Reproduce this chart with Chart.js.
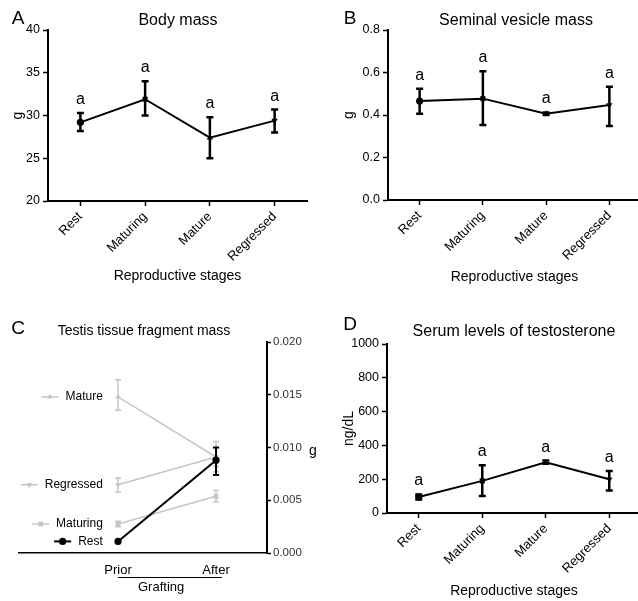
<!DOCTYPE html>
<html>
<head>
<meta charset="utf-8">
<script src="https://cdn.jsdelivr.net/npm/chart.js@4.4.1/dist/chart.umd.min.js"></script>
<style>
  body { margin: 0; width: 638px; height: 601px; overflow: hidden; background: #fff; position: relative;
         font-family: Arial, "Liberation Sans", sans-serif; }
  .panel { position: absolute; }
  .lbl { position: absolute; transform: translate(-50%, -50%); white-space: nowrap; line-height: 1; color: #000; }
</style>
</head>
<body>
<div class="panel" style="left:0;top:0"><canvas id="chartA" width="320" height="300"></canvas></div>
<div class="panel" style="left:318px;top:0"><canvas id="chartB" width="330" height="300"></canvas></div>
<div class="panel" style="left:0;top:300px"><canvas id="chartC" width="320" height="301"></canvas></div>
<div class="panel" style="left:318px;top:300px"><canvas id="chartD" width="330" height="301"></canvas></div>

<div class="lbl" style="left:18px;top:17px;font-size:19px">A</div>
<div class="lbl" style="left:178px;top:20px;font-size:16px">Body mass</div>
<div class="lbl" style="left:350px;top:17px;font-size:19px">B</div>
<div class="lbl" style="left:516px;top:20px;font-size:16px">Seminal vesicle mass</div>
<div class="lbl" style="left:18px;top:327px;font-size:19px">C</div>
<div class="lbl" style="left:144px;top:330px;font-size:14px">Testis tissue fragment mass</div>
<div class="lbl" style="left:313px;top:450px;font-size:14px">g</div>
<div class="lbl" style="left:350px;top:323px;font-size:19px">D</div>
<div class="lbl" style="left:514px;top:331px;font-size:16px">Serum levels of testosterone</div>

<script>
const FONT = 'Arial, "Liberation Sans", sans-serif';
Chart.defaults.font.family = FONT;
Chart.defaults.color = '#000';
Chart.defaults.animation = false;

// data
const stages = ['Rest', 'Maturing', 'Mature', 'Regressed'];
const stageMarkers = ['circle', 'rect', 'triangle', 'triangle'];
const stageRotation = [0, 0, 0, 180];
const stageLetters = ['a', 'a', 'a', 'a'];

const bodyMass = [29.2, 31.9, 27.4, 29.4];
const bodyMassLow = [28.2, 30.0, 25.0, 28.0];
const bodyMassHigh = [30.3, 34.0, 29.8, 30.7];

const svMass = [0.466, 0.477, 0.406, 0.447];
const svMassLow = [0.406, 0.353, 0.400, 0.348];
const svMassHigh = [0.524, 0.606, 0.412, 0.533];

const testo = [95, 190, 300, 200];
const testoLow = [80, 101, 292, 133];
const testoHigh = [110, 283, 310, 248];

const grafting = ['Prior', 'After'];
const fragRest = [0.0011, 0.0088];
const fragRestLow = [0.0011, 0.0074];
const fragRestHigh = [0.0011, 0.0100];
const fragMaturing = [0.00275, 0.00537];
const fragMaturingLow = [0.0025, 0.00483];
const fragMaturingHigh = [0.0030, 0.00593];
const fragRegressed = [0.00647, 0.0091];
const fragRegressedLow = [0.00578, 0.0082];
const fragRegressedHigh = [0.0071, 0.0100];
const fragMature = [0.0148, 0.0091];
const fragMatureLow = [0.01352, 0.0077];
const fragMatureHigh = [0.01643, 0.01058];

const GREY = '#c6c6c6';

// vertical error bars with caps, drawn per dataset
const errorBars = {
  id: 'errorBars',
  afterDatasetDraw(chart, args) {
    const ds = chart.data.datasets[args.index];
    if (!ds.errLow) return;
    const y = chart.scales.y;
    const ctx = chart.ctx;
    const cap = ds.capHalf || 3.5;
    ctx.save();
    ctx.strokeStyle = ds.borderColor;
    ctx.lineWidth = ds.errWidth || 2.5;
    args.meta.data.forEach((pt, i) => {
      const top = y.getPixelForValue(ds.errHigh[i]);
      const bot = y.getPixelForValue(ds.errLow[i]);
      if (bot - top < 1) return;
      ctx.beginPath();
      ctx.moveTo(pt.x, top); ctx.lineTo(pt.x, bot);
      ctx.moveTo(pt.x - cap, top); ctx.lineTo(pt.x + cap, top);
      ctx.moveTo(pt.x - cap, bot); ctx.lineTo(pt.x + cap, bot);
      ctx.stroke();
    });
    ctx.restore();
  }
};

// the little "a" letters over each group
const sigLetters = {
  id: 'sigLetters',
  afterDatasetsDraw(chart, args, opts) {
    if (!opts.letters) return;
    const ds = chart.data.datasets[0];
    const meta = chart.getDatasetMeta(0);
    const ctx = chart.ctx;
    ctx.save();
    ctx.font = '16px ' + FONT;
    ctx.fillStyle = '#000';
    ctx.textAlign = 'center';
    ctx.textBaseline = 'alphabetic';
    meta.data.forEach((pt, i) => {
      const top = chart.scales.y.getPixelForValue(ds.errHigh[i]);
      ctx.fillText(opts.letters[i], pt.x, top - 9);
    });
    ctx.restore();
  }
};

// labels next to the "Prior" points in panel C
const sideLabels = {
  id: 'sideLabels',
  afterDatasetsDraw(chart) {
    const ctx = chart.ctx;
    const xr = chart.scales.x.getPixelForValue(-0.155);
    ctx.save();
    ctx.font = '12px ' + FONT;
    ctx.textAlign = 'right';
    ctx.textBaseline = 'middle';
    chart.data.datasets.forEach((ds) => {
      const y = chart.scales.y.getPixelForValue(ds.data[0].y);
      ctx.fillStyle = '#000';
      ctx.fillText(ds.label, xr, y);
      const w = ctx.measureText(ds.label).width;
      const x1 = xr - w - 7, x0 = x1 - 17;
      ctx.strokeStyle = ds.borderColor;
      ctx.fillStyle = ds.pointBackgroundColor;
      ctx.lineWidth = ds.borderWidth;
      ctx.beginPath(); ctx.moveTo(x0, y); ctx.lineTo(x1, y); ctx.stroke();
      Chart.helpers.drawPoint(ctx, {
        pointStyle: ds.pointStyle, rotation: ds.pointRotation || 0,
        radius: ds.pointRadius, borderWidth: 0
      }, (x0 + x1) / 2, y);
    });
    ctx.restore();
  }
};

// "Prior  After" underline + Grafting
const graftAxis = {
  id: 'graftAxis',
  afterDraw(chart) {
    const ctx = chart.ctx;
    const x = chart.scales.x;
    const x0 = x.getPixelForValue(0), x1 = x.getPixelForValue(1) + 6;
    ctx.save();
    ctx.strokeStyle = '#000';
    ctx.lineWidth = 1;
    ctx.beginPath(); ctx.moveTo(x0, 277.5); ctx.lineTo(x1, 277.5); ctx.stroke();
    ctx.font = '13px ' + FONT;
    ctx.fillStyle = '#000';
    ctx.textAlign = 'center';
    ctx.textBaseline = 'middle';
    ctx.fillText('Grafting', x.getPixelForValue(0.44), 287);
    ctx.restore();
  }
};

function stagePanel(id, o) {
  return new Chart(document.getElementById(id), {
    type: 'line',
    data: {
      labels: stages,
      datasets: [{
        data: o.values, errLow: o.low, errHigh: o.high,
        borderColor: '#000', borderWidth: 2,
        pointStyle: stageMarkers, pointRotation: stageRotation,
        pointRadius: 3.6, pointBorderWidth: 0,
        pointBackgroundColor: '#000', pointBorderColor: '#000'
      }]
    },
    options: {
      responsive: false,
      devicePixelRatio: 1,
      layout: { padding: o.padding },
      plugins: { legend: { display: false }, tooltip: { enabled: false }, sigLetters: { letters: stageLetters } },
      scales: {
        x: {
          offset: true,
          afterFit: (s) => { s.height = o.xHeight; },
          border: { color: '#000', width: 2 },
          grid: { drawOnChartArea: false, tickColor: '#000', tickWidth: 1.5, tickLength: 5 },
          ticks: { minRotation: 45, maxRotation: 45, padding: 3, font: { size: 13 } },
          title: { display: true, text: 'Reproductive stages', font: { size: 14 }, padding: { top: 0, bottom: o.xTitlePad } }
        },
        y: {
          min: o.min, max: o.max,
          afterFit: (s) => { s.width = o.yWidth; },
          afterBuildTicks: (s) => { s.ticks = o.ticks.map((v) => ({ value: v })); },
          border: { color: '#000', width: 2 },
          grid: { drawOnChartArea: false, tickColor: '#000', tickWidth: 1.5, tickLength: 5 },
          ticks: { padding: 3, font: { size: 12.5 }, callback: o.fmt },
          title: { display: true, text: o.yTitle, font: { size: 14 }, padding: { top: o.yTitlePad, bottom: 0 } }
        }
      }
    },
    plugins: [errorBars, sigLetters]
  });
}

stagePanel('chartA', {
  values: bodyMass, low: bodyMassLow, high: bodyMassHigh,
  min: 20, max: 40, ticks: [20, 25, 30, 35, 40], fmt: (v) => v,
  yTitle: 'g', yTitlePad: 10, yWidth: 48, xHeight: 99, xTitlePad: 15,
  padding: { left: 0, top: 30, right: 13, bottom: 0 }
});

stagePanel('chartB', {
  values: svMass, low: svMassLow, high: svMassHigh,
  min: 0, max: 0.8, ticks: [0, 0.2, 0.4, 0.6, 0.8], fmt: (v) => v.toFixed(1),
  yTitle: 'g', yTitlePad: 23, yWidth: 70, xHeight: 100, xTitlePad: 14,
  padding: { left: 0, top: 30, right: 7, bottom: 0 }
});

stagePanel('chartD', {
  values: testo, low: testoLow, high: testoHigh,
  min: 0, max: 1000, ticks: [0, 200, 400, 600, 800, 1000], fmt: (v) => v,
  yTitle: 'ng/dL', yTitlePad: 23, yWidth: 69, xHeight: 88, xTitlePad: 1,
  padding: { left: 0, top: 44, right: 7, bottom: 0 }
});

function graftSet(label, vals, low, high, color, style, rot, width, radius) {
  return {
    label: label,
    data: grafting.map((g, i) => ({ x: i, y: vals[i] })),
    errLow: low, errHigh: high,
    borderColor: color, borderWidth: width, errWidth: width, capHalf: 3,
    pointStyle: style, pointRotation: rot, pointRadius: radius, pointBorderWidth: 0,
    pointBackgroundColor: color, pointBorderColor: color
  };
}

new Chart(document.getElementById('chartC'), {
  type: 'line',
  data: {
    datasets: [
      graftSet('Rest', fragRest, fragRestLow, fragRestHigh, '#000', 'circle', 0, 2, 3.6),
      graftSet('Maturing', fragMaturing, fragMaturingLow, fragMaturingHigh, GREY, 'rect', 0, 1.5, 3.4),
      graftSet('Regressed', fragRegressed, fragRegressedLow, fragRegressedHigh, GREY, 'triangle', 180, 1.5, 3.4),
      graftSet('Mature', fragMature, fragMatureLow, fragMatureHigh, GREY, 'triangle', 0, 1.5, 3.4)
    ]
  },
  options: {
    responsive: false,
    devicePixelRatio: 1,
    layout: { padding: { left: 19, top: 42, right: 0, bottom: 0 } },
    plugins: { legend: { display: false }, tooltip: { enabled: false } },
    scales: {
      x: {
        type: 'linear', min: -1.01, max: 1.52,
        afterFit: (s) => { s.height = 48; },
        afterBuildTicks: (s) => { s.ticks = [{ value: 0 }, { value: 1 }]; },
        border: { color: '#000', width: 1.5 },
        grid: { display: false, drawTicks: false },
        ticks: { padding: 10, font: { size: 13 }, callback: (v) => grafting[v] }
      },
      y: {
        position: 'right', min: 0, max: 0.02,
        afterFit: (s) => { s.width = 53; },
        afterBuildTicks: (s) => { s.ticks = [0, 0.005, 0.01, 0.015, 0.02].map((v) => ({ value: v })); },
        border: { color: '#000', width: 2 },
        grid: { drawOnChartArea: false, tickColor: '#000', tickWidth: 1.5, tickLength: 4 },
        ticks: { padding: 2, font: { size: 11.5 }, color: '#333', callback: (v) => v.toFixed(3) }
      }
    }
  },
  plugins: [errorBars, sideLabels, graftAxis]
});
</script>
</body>
</html>
